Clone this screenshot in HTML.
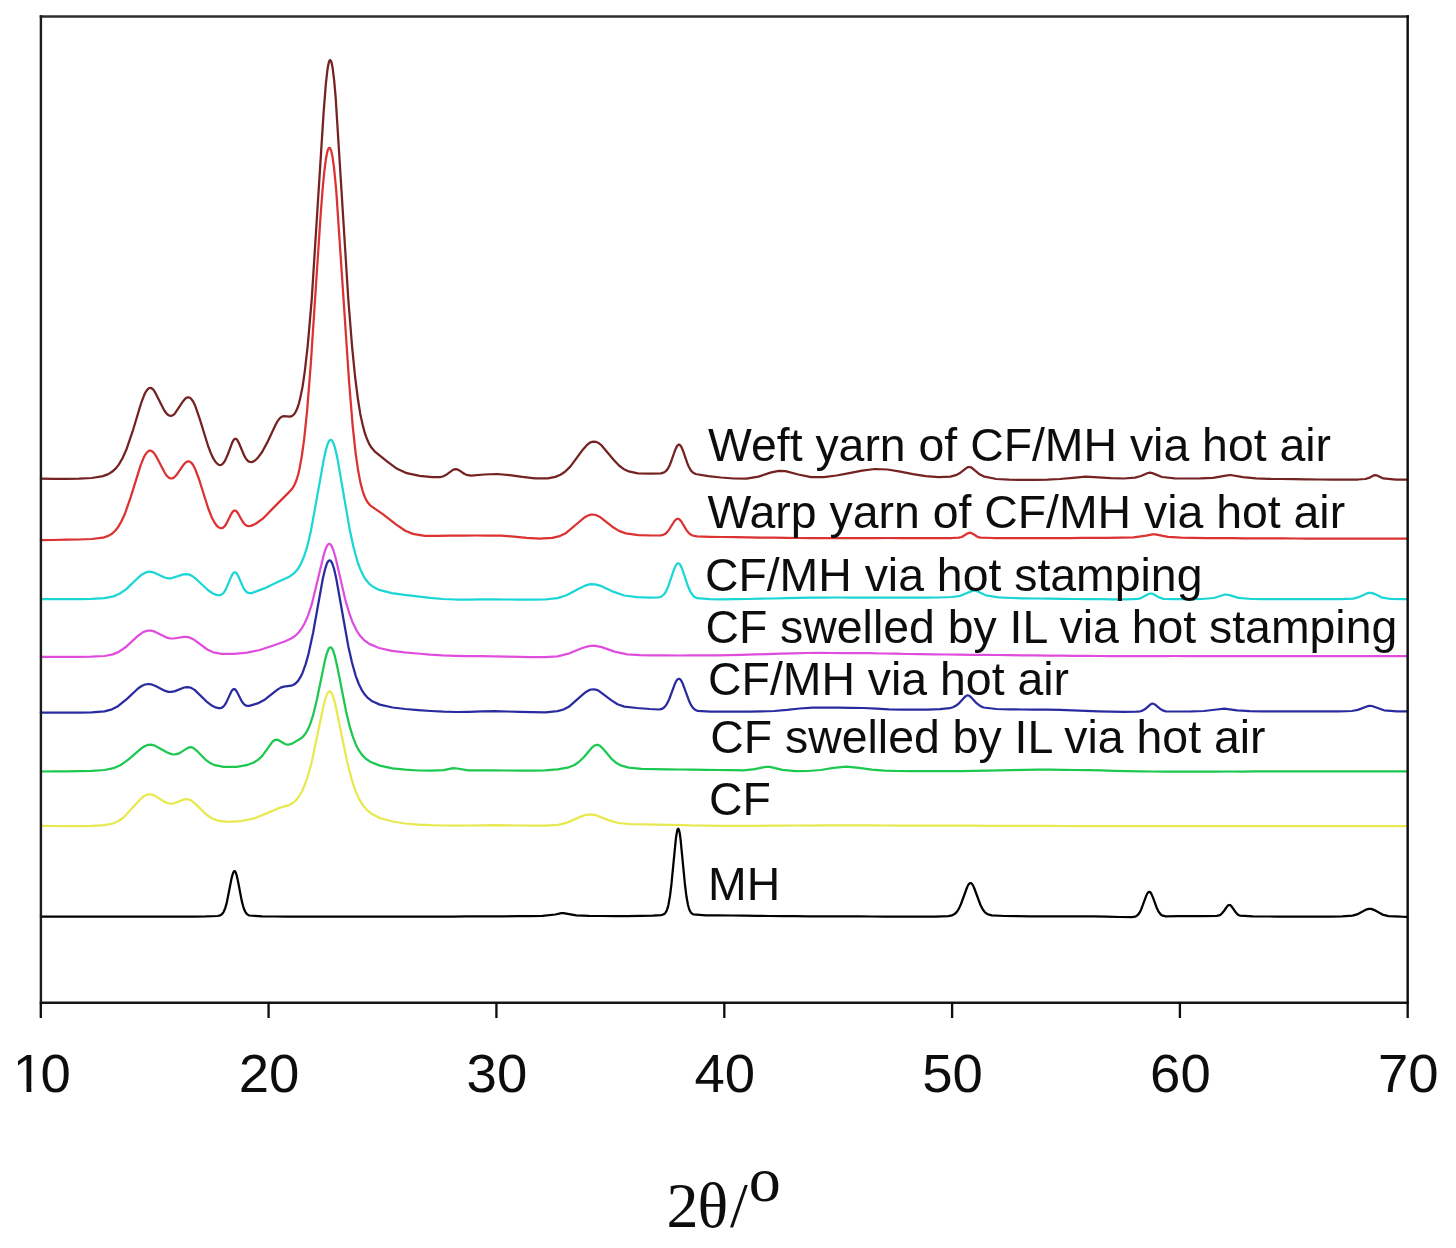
<!DOCTYPE html>
<html><head><meta charset="utf-8"><title>XRD patterns</title><style>html,body{margin:0;padding:0;background:#fff;overflow:hidden;}svg{display:block;}</style></head><body>
<svg width="1456" height="1248" viewBox="0 0 1456 1248">
<defs>
<filter id="bc" x="-5%" y="-5%" width="110%" height="110%"><feGaussianBlur stdDeviation="0.70"/></filter>
<filter id="bt" x="-5%" y="-5%" width="110%" height="110%"><feGaussianBlur stdDeviation="0.45"/></filter>
<filter id="bf" x="-5%" y="-5%" width="110%" height="110%"><feGaussianBlur stdDeviation="0.50"/></filter>
</defs>
<rect width="100%" height="100%" fill="#fff"/>
<g fill="none" stroke-linejoin="round" stroke-linecap="round" filter="url(#bc)">
<path stroke="#000000" stroke-width="2.25" d="M40.8,916.5 53.5,916.5 66.3,916.5 79.0,916.5 91.8,916.5 104.5,916.5 117.3,916.5 129.3,916.5 142.1,916.5 154.8,916.5 167.6,916.5 180.3,916.5 193.1,916.5 205.8,916.4 217.8,916.0 220.1,915.4 221.6,914.5 222.3,913.8 223.1,912.8 223.8,911.5 225.3,907.9 226.8,902.5 231.3,879.6 232.1,876.3 232.8,873.7 233.6,871.9 234.3,871.1 235.1,871.4 235.8,872.7 236.6,875.0 238.1,881.7 241.8,901.1 243.3,906.8 244.8,910.8 245.6,912.3 246.3,913.4 247.8,914.8 249.3,915.5 262.1,916.4 274.8,916.5 287.6,916.5 300.3,916.5 313.1,916.5 325.8,916.5 338.6,916.5 351.3,916.5 364.1,916.5 376.8,916.5 389.6,916.5 402.3,916.5 415.1,916.5 427.8,916.5 440.6,916.5 453.3,916.5 466.1,916.4 478.8,916.4 491.6,916.4 504.3,916.3 517.0,916.2 529.8,916.1 542.5,915.8 555.3,914.5 561.3,913.2 563.5,913.1 576.3,915.4 589.0,915.9 601.8,916.0 614.5,916.0 627.3,916.0 640.0,915.9 652.8,915.7 661.0,915.1 663.3,914.5 664.8,913.5 665.5,912.6 666.3,911.4 667.0,909.7 667.8,907.4 668.5,904.5 670.0,895.9 671.5,883.7 675.3,844.3 676.0,837.7 676.8,832.7 677.5,829.6 678.3,828.7 679.0,830.0 679.8,833.5 680.5,838.9 685.0,885.0 686.5,896.8 687.3,901.3 688.0,905.0 688.8,907.8 689.5,909.9 690.3,911.5 691.0,912.6 691.8,913.4 693.3,914.4 706.0,915.3 718.8,915.4 731.5,915.5 744.3,915.6 757.0,915.8 769.8,916.0 782.5,916.1 795.3,916.2 808.0,916.3 820.8,916.4 833.5,916.4 846.3,916.4 859.0,916.4 871.8,916.5 884.5,916.6 897.3,916.7 910.0,916.7 922.8,916.7 935.5,916.6 948.3,916.1 952.0,915.3 954.3,914.2 955.8,913.0 957.3,911.2 958.8,908.9 961.0,904.0 967.0,887.5 968.5,884.6 969.3,883.7 970.0,883.2 970.8,883.1 971.5,883.5 972.3,884.3 973.8,887.0 980.5,905.0 982.8,909.4 984.3,911.5 985.8,913.0 988.0,914.4 991.8,915.4 1004.5,916.0 1017.3,916.2 1030.0,916.3 1042.8,916.3 1055.5,916.3 1068.3,916.3 1081.0,916.3 1093.8,916.3 1106.5,916.6 1119.3,917.0 1132.0,917.1 1135.0,916.6 1136.5,916.0 1138.0,914.7 1139.5,912.8 1141.0,909.9 1146.3,895.6 1147.0,894.0 1147.8,892.8 1148.5,892.1 1149.3,891.8 1150.0,892.1 1150.8,892.9 1151.5,894.1 1153.0,897.6 1156.8,908.0 1158.3,911.1 1159.8,913.4 1161.3,914.9 1162.8,915.7 1165.8,916.3 1178.5,916.2 1191.3,916.2 1204.0,916.2 1216.8,915.9 1219.0,915.4 1220.5,914.7 1222.0,913.4 1224.3,910.5 1227.3,906.2 1228.0,905.5 1228.8,905.1 1229.5,905.0 1230.3,905.2 1231.0,905.8 1232.5,907.7 1235.5,912.1 1237.0,913.8 1238.5,915.0 1240.0,915.6 1252.8,916.4 1265.5,916.5 1278.3,916.5 1291.0,916.5 1303.8,916.5 1316.5,916.5 1329.3,916.5 1342.0,916.4 1352.5,915.7 1357.0,914.4 1366.8,909.3 1369.0,908.8 1371.3,908.9 1374.3,910.1 1382.5,914.6 1388.5,916.1 1401.3,916.7 1407.3,916.8"/>
<path stroke="#e8e850" stroke-width="2.25" d="M40.8,825.9 53.5,826.0 66.3,826.1 79.0,826.1 91.8,825.9 104.5,825.2 112.8,823.5 118.0,821.2 123.3,817.7 135.3,804.8 141.3,798.3 144.3,795.9 146.6,794.8 148.8,794.3 151.1,794.4 154.1,795.4 165.3,802.3 168.3,803.4 171.3,803.7 174.3,803.3 184.1,799.4 186.3,799.1 188.6,799.4 190.8,800.3 194.6,803.1 206.6,814.7 211.8,818.2 217.8,820.6 228.3,821.9 241.1,821.1 253.8,818.5 266.6,813.4 278.6,808.2 289.1,805.1 292.8,803.0 295.8,800.5 298.8,796.8 301.8,791.7 304.8,785.0 307.8,776.3 311.6,762.6 323.6,705.5 325.1,699.8 326.6,695.3 327.3,693.7 328.1,692.5 328.8,691.7 329.6,691.4 330.3,691.6 331.1,692.3 331.8,693.5 333.3,697.0 334.8,702.1 347.6,763.8 352.1,780.8 355.8,791.7 359.6,799.9 363.3,805.8 367.1,810.2 371.6,813.8 379.8,818.0 392.6,821.5 405.3,823.5 418.1,824.6 430.8,825.2 443.6,825.5 456.3,825.7 469.1,825.5 481.8,825.3 494.6,825.2 507.3,825.4 520.0,825.5 532.8,825.6 545.5,825.7 558.3,824.8 568.0,822.3 580.8,816.6 586.0,814.8 590.5,814.3 595.8,815.1 608.5,820.1 618.3,823.0 631.0,824.1 643.8,824.3 656.5,824.6 669.3,824.9 682.0,825.2 694.8,825.5 707.5,825.7 720.3,825.9 733.0,825.9 745.8,825.9 758.5,825.8 771.3,825.7 784.0,825.7 796.8,825.5 809.5,825.5 822.3,825.4 835.0,825.4 847.8,825.4 860.5,825.4 873.3,825.4 886.0,825.5 898.8,825.5 911.5,825.5 924.3,825.6 937.0,825.6 949.8,825.6 962.5,825.7 975.3,825.7 988.0,825.8 1000.8,825.8 1013.5,825.8 1026.3,825.9 1039.0,825.9 1051.8,825.9 1064.5,826.0 1077.3,826.0 1090.0,826.0 1102.8,826.0 1115.5,826.0 1128.3,826.0 1141.0,826.0 1153.8,826.0 1166.5,826.0 1179.3,826.0 1192.0,826.0 1204.8,826.0 1217.5,826.0 1230.3,826.0 1243.0,826.0 1255.8,826.0 1268.5,826.0 1281.3,826.0 1294.0,826.0 1306.8,826.0 1319.5,826.0 1332.3,826.0 1345.0,826.1 1357.8,826.1 1370.5,826.1 1383.3,826.1 1396.0,826.2 1407.3,826.2"/>
<path stroke="#1cc850" stroke-width="2.25" d="M40.8,771.5 53.5,771.4 66.3,771.3 79.0,771.1 91.8,770.9 104.5,770.0 113.5,768.2 120.3,765.3 128.6,759.4 141.3,748.3 145.1,746.0 148.1,744.9 151.1,744.7 154.1,745.3 166.8,752.3 170.6,753.9 173.6,754.5 176.6,754.2 179.6,753.1 187.8,747.9 189.3,747.4 190.8,747.2 192.3,747.5 193.8,748.3 196.8,750.8 205.1,759.3 209.6,762.7 214.8,765.2 223.8,766.9 236.6,766.8 247.8,764.8 253.8,762.5 258.3,759.6 262.1,756.1 271.8,742.6 273.3,741.0 274.8,740.0 276.3,739.6 277.8,739.8 284.6,743.8 286.8,744.5 289.1,744.5 292.1,743.6 300.3,738.8 303.3,736.3 305.6,733.5 307.8,729.6 310.1,724.4 313.1,715.2 316.8,699.9 325.1,659.8 326.6,654.2 328.1,650.0 328.8,648.6 329.6,647.7 330.3,647.3 331.1,647.5 331.8,648.2 332.6,649.4 333.3,651.1 334.8,655.8 337.8,669.2 346.1,711.5 349.8,726.9 352.8,736.7 355.8,744.4 358.8,750.2 361.8,754.6 365.6,758.5 370.1,761.7 379.8,765.6 392.6,768.3 405.3,769.7 418.1,770.5 430.8,770.7 443.6,770.1 453.3,768.2 457.1,768.5 468.3,770.3 481.1,770.4 493.8,770.4 506.6,770.5 519.3,770.6 532.0,770.6 544.8,770.4 557.5,769.4 568.8,767.3 574.0,765.2 578.5,762.3 583.8,757.3 592.0,747.6 594.3,745.7 595.8,745.0 597.3,744.8 598.8,745.2 600.3,746.1 603.3,749.0 611.5,758.8 616.0,762.7 620.5,765.3 628.8,767.6 641.5,768.8 654.3,769.2 667.0,769.4 679.8,769.5 692.5,769.6 705.3,769.8 718.0,770.0 730.8,770.1 743.5,770.3 754.8,769.2 765.3,766.9 769.8,766.8 782.5,769.9 795.3,771.1 808.0,771.0 820.8,770.0 833.5,767.9 846.3,766.7 859.0,767.8 871.8,769.7 884.5,770.7 897.3,771.0 910.0,771.1 922.8,771.1 935.5,771.1 948.3,771.2 961.0,771.1 973.8,770.9 986.5,770.6 999.3,770.3 1012.0,770.1 1024.8,769.8 1037.5,769.7 1050.3,769.7 1063.0,769.8 1075.8,770.0 1088.5,770.2 1101.3,770.4 1114.0,770.8 1126.8,771.1 1139.5,771.3 1152.3,771.5 1165.0,771.6 1177.8,771.7 1190.5,771.6 1203.3,771.6 1216.0,771.6 1228.8,771.5 1241.5,771.5 1254.3,771.4 1267.0,771.4 1279.8,771.4 1292.5,771.4 1305.3,771.4 1318.0,771.4 1330.8,771.4 1343.5,771.4 1356.3,771.4 1369.0,771.4 1381.8,771.4 1394.5,771.4 1407.3,771.4"/>
<path stroke="#2c2ca0" stroke-width="2.25" d="M40.8,712.5 53.5,712.5 66.3,712.5 79.0,712.6 91.8,712.4 104.5,711.3 112.0,709.3 118.0,706.2 127.0,698.9 138.3,688.3 142.1,685.7 145.1,684.5 148.1,684.0 151.1,684.3 155.6,686.0 164.6,690.7 168.3,691.8 171.3,691.9 175.1,691.1 184.1,687.5 187.1,687.1 189.3,687.3 191.6,688.1 194.6,689.9 207.3,702.2 211.8,705.6 215.6,707.4 218.6,708.1 220.1,708.1 221.6,707.8 223.1,706.8 224.6,705.2 226.1,702.9 231.3,691.6 232.1,690.4 232.8,689.6 233.6,689.2 234.3,689.1 235.1,689.4 235.8,690.1 237.3,692.5 241.1,700.1 242.6,702.6 244.1,704.3 245.6,705.4 247.1,705.8 249.3,705.9 257.6,703.4 265.1,699.4 277.8,689.4 280.8,687.6 283.8,686.6 291.3,685.7 293.6,684.8 295.8,683.3 298.1,680.9 300.3,677.4 302.6,672.7 305.6,664.4 308.6,653.6 313.1,632.7 322.8,578.8 325.1,569.1 326.6,564.4 327.3,562.7 328.1,561.4 328.8,560.7 329.6,560.4 330.3,560.6 331.1,561.4 331.8,562.6 332.6,564.3 334.1,569.0 336.3,578.8 348.3,646.2 352.1,663.0 355.8,676.1 358.8,684.0 361.8,690.1 364.8,694.6 367.8,697.9 372.3,701.3 379.8,704.6 392.6,707.5 405.3,709.0 418.1,710.1 430.8,711.0 443.6,711.7 456.3,712.0 469.1,711.8 481.8,711.4 494.6,711.2 507.3,711.5 520.0,711.9 532.8,712.2 545.5,712.3 557.5,711.2 563.5,709.5 568.8,706.8 581.5,695.6 586.0,691.9 589.0,690.2 591.3,689.5 593.5,689.3 595.8,689.6 598.8,690.8 611.5,700.4 617.5,704.2 624.3,706.6 637.0,708.0 649.8,709.0 658.8,709.5 661.0,709.2 662.5,708.6 664.0,707.5 665.5,706.0 667.0,703.7 669.3,699.0 674.5,684.8 676.0,681.5 676.8,680.3 677.5,679.4 678.3,678.9 679.0,678.8 679.8,679.1 680.5,679.7 681.3,680.8 682.8,683.8 688.8,700.2 691.0,705.0 692.5,707.2 694.0,708.9 695.5,710.0 697.8,710.9 710.5,711.7 723.3,711.7 736.0,711.7 748.8,711.6 761.5,711.4 774.3,711.0 787.0,709.9 799.8,708.5 812.5,707.6 825.3,707.6 838.0,707.7 850.8,707.9 863.5,708.0 876.3,708.6 889.0,709.3 901.8,709.7 914.5,709.7 927.3,709.6 940.0,709.2 949.8,708.2 953.5,707.0 956.5,705.3 959.5,702.8 964.8,697.0 966.3,695.8 967.0,695.5 967.8,695.4 968.5,695.5 969.3,695.8 970.8,697.0 976.8,703.4 979.8,705.7 983.5,707.5 996.3,709.0 1009.0,709.4 1021.8,709.5 1034.5,709.5 1047.3,709.6 1060.0,709.9 1072.8,710.4 1085.5,710.9 1098.3,711.3 1111.0,711.6 1123.8,711.8 1136.5,711.7 1140.3,711.3 1142.5,710.6 1144.8,709.3 1150.0,704.8 1151.5,703.9 1152.3,703.7 1153.0,703.7 1154.5,704.2 1160.5,709.1 1162.8,710.4 1165.8,711.3 1178.5,711.5 1191.3,711.4 1204.0,711.0 1216.8,709.5 1224.3,708.6 1237.0,710.3 1249.8,711.1 1262.5,711.3 1275.3,711.4 1288.0,711.4 1300.8,711.4 1313.5,711.4 1326.3,711.4 1339.0,711.3 1351.8,711.0 1357.8,709.9 1367.5,706.2 1369.8,705.8 1372.0,706.0 1384.0,710.3 1396.8,711.3 1407.3,711.4"/>
<path stroke="#e04ede" stroke-width="2.25" d="M40.8,656.8 53.5,656.8 66.3,656.8 79.0,656.8 91.8,656.7 104.5,656.0 112.8,654.4 118.8,651.9 125.5,647.3 137.6,636.2 142.1,632.8 145.1,631.3 148.1,630.6 151.1,630.6 154.8,631.7 166.1,637.3 169.8,638.3 173.6,638.5 184.1,636.8 187.1,636.9 190.1,637.7 194.6,640.1 207.3,649.5 213.3,652.3 221.6,653.9 234.3,653.9 247.1,652.7 259.8,650.0 272.6,645.8 285.3,641.3 292.1,638.0 295.8,635.3 298.8,632.3 301.8,628.3 304.8,623.0 307.8,616.1 311.6,604.9 323.6,555.6 325.1,550.5 326.6,546.7 327.3,545.4 328.1,544.4 328.8,543.9 329.6,543.9 330.3,544.3 331.1,545.1 331.8,546.4 333.3,550.0 335.6,557.8 345.3,599.7 349.1,612.7 352.8,622.8 356.6,630.5 360.3,636.1 364.1,640.1 369.3,643.9 379.1,648.0 391.8,650.8 404.6,652.3 417.3,653.5 430.1,654.6 442.8,655.4 455.6,655.8 468.3,656.1 481.1,656.2 493.8,656.4 506.6,656.6 519.3,656.9 532.0,657.2 544.8,657.2 557.5,656.3 569.5,653.3 582.3,648.0 589.0,646.1 594.3,645.7 601.8,647.1 614.5,651.6 627.3,654.3 640.0,655.1 652.8,655.3 665.5,655.4 678.3,655.5 691.0,655.4 703.8,655.4 716.5,655.3 729.3,655.2 742.0,654.9 754.8,654.4 767.5,654.1 780.3,653.7 793.0,653.3 805.8,653.0 818.5,652.9 831.3,653.0 844.0,653.0 856.8,653.1 869.5,653.2 882.3,653.5 895.0,653.7 907.8,654.0 920.5,654.2 933.3,654.3 946.0,654.5 958.8,654.6 971.5,654.8 984.3,654.9 997.0,655.0 1009.8,655.1 1022.5,655.3 1035.3,655.4 1048.0,655.6 1060.8,655.7 1073.5,655.8 1086.3,655.9 1099.0,656.0 1111.8,656.0 1124.5,656.1 1137.3,656.1 1150.0,656.1 1162.8,656.1 1175.5,656.0 1188.3,656.0 1201.0,656.0 1213.8,656.0 1226.5,656.0 1239.3,656.0 1252.0,656.0 1264.8,656.0 1277.5,656.0 1290.3,656.0 1303.0,656.0 1315.8,656.0 1328.5,656.0 1341.3,656.0 1354.0,656.0 1366.8,656.0 1379.5,656.0 1392.3,656.0 1405.0,656.0 1407.3,656.0"/>
<path stroke="#1cd6d6" stroke-width="2.25" d="M40.8,599.0 53.5,599.0 66.3,599.0 79.0,599.0 91.8,598.9 104.5,598.2 113.5,596.4 119.5,593.8 126.3,589.1 138.3,577.5 142.8,573.9 145.8,572.4 148.1,571.8 150.3,571.7 153.3,572.3 164.6,577.5 168.3,578.3 171.3,578.3 183.3,574.4 186.3,574.1 188.6,574.4 191.6,575.6 195.3,578.3 208.1,590.3 212.6,593.3 216.3,594.9 218.6,595.2 220.1,595.1 221.6,594.5 223.1,593.4 224.6,591.5 226.1,588.9 231.3,576.4 232.8,573.7 233.6,572.8 234.3,572.4 235.1,572.3 235.8,572.6 236.6,573.4 238.1,575.8 243.3,587.6 244.8,590.0 246.3,591.7 247.8,592.7 249.3,593.1 251.6,593.1 264.3,588.4 277.1,582.2 289.8,576.4 293.6,573.7 296.6,570.6 298.8,567.5 301.1,563.4 304.1,556.3 307.1,546.9 310.8,531.6 323.6,460.6 325.8,450.3 327.3,445.1 328.1,443.1 328.8,441.5 329.6,440.5 330.3,439.9 331.1,439.9 331.8,440.4 332.6,441.4 333.3,442.9 334.8,447.2 337.1,456.6 349.8,530.1 353.6,547.5 357.3,561.0 360.3,569.3 363.3,575.6 366.3,580.3 369.3,583.8 373.1,586.8 379.1,589.9 391.8,593.2 404.6,594.9 417.3,596.3 430.1,597.8 442.8,599.0 455.6,599.5 468.3,599.5 481.1,599.4 493.8,599.4 506.6,599.5 519.3,599.6 532.0,599.6 544.8,599.5 557.5,598.1 566.5,595.2 579.3,588.4 586.0,585.3 590.5,584.2 595.0,584.3 601.0,585.9 613.8,591.9 624.3,595.5 637.0,597.1 649.8,597.6 658.0,597.5 660.3,597.0 661.8,596.2 663.3,595.1 664.8,593.3 666.3,590.8 668.5,585.7 673.8,570.2 675.3,566.5 676.0,565.2 676.8,564.1 677.5,563.5 678.3,563.3 679.0,563.6 679.8,564.2 680.5,565.3 682.0,568.5 688.0,586.3 690.3,591.5 691.8,594.0 693.3,595.8 694.8,597.1 697.0,598.2 709.8,599.2 722.5,599.3 735.3,599.2 748.0,599.0 760.8,598.7 773.5,598.5 786.3,598.2 799.0,597.9 811.8,597.6 824.5,597.6 837.3,597.5 850.0,597.5 862.8,597.5 875.5,597.5 888.3,597.5 901.0,597.5 913.8,597.6 926.5,597.6 939.3,597.5 952.0,597.0 960.3,595.8 972.3,590.9 973.8,590.7 975.3,590.7 978.3,591.8 985.8,595.3 998.5,597.4 1011.3,598.0 1024.0,598.3 1036.8,598.5 1049.5,598.7 1062.3,598.8 1075.0,599.0 1087.8,599.1 1100.5,599.2 1113.3,599.3 1126.0,599.3 1138.0,598.8 1141.0,598.1 1148.5,594.0 1150.0,593.5 1151.5,593.5 1153.0,593.9 1159.8,597.7 1163.5,598.8 1176.3,599.2 1189.0,599.2 1201.8,599.0 1213.8,598.0 1224.3,594.7 1226.5,594.5 1230.3,595.4 1238.5,597.9 1251.3,599.0 1264.0,599.2 1276.8,599.2 1289.5,599.2 1302.3,599.2 1315.0,599.2 1327.8,599.2 1340.5,599.2 1353.3,598.6 1358.5,597.2 1366.8,593.4 1369.0,592.8 1371.3,592.9 1374.3,593.8 1382.5,597.7 1390.8,599.0 1403.5,599.2 1407.3,599.2"/>
<path stroke="#dc3030" stroke-width="2.25" d="M40.8,540.2 53.5,540.0 66.3,539.7 79.0,539.5 91.8,539.0 103.0,537.7 108.3,535.9 112.0,533.7 115.0,531.0 118.0,527.2 121.0,522.2 124.8,514.1 130.8,496.8 140.6,465.3 143.6,457.8 145.1,454.9 146.6,452.8 148.1,451.4 148.8,450.9 149.6,450.7 150.3,450.7 151.1,450.8 152.6,451.7 154.1,453.2 156.3,456.6 164.6,472.5 166.8,475.8 168.3,477.3 169.8,478.2 171.3,478.5 172.8,478.2 174.3,477.3 176.6,474.9 183.3,465.1 185.6,462.6 187.1,461.7 187.8,461.4 188.6,461.4 189.3,461.5 190.1,461.8 191.6,463.0 193.1,465.0 195.3,469.3 199.1,479.5 208.1,508.0 211.8,517.4 214.1,521.8 216.3,525.1 217.8,526.6 219.3,527.7 220.8,528.2 221.6,528.1 222.3,527.9 223.1,527.6 224.6,526.2 226.1,524.2 231.3,513.8 232.8,511.6 233.6,510.9 234.3,510.5 235.1,510.5 235.8,510.9 236.6,511.5 238.1,513.5 242.6,521.5 244.1,523.5 245.6,525.0 247.1,525.8 248.6,526.1 250.8,525.9 255.3,524.0 262.8,518.7 275.6,505.6 288.3,492.9 291.3,489.8 293.6,486.5 295.1,483.5 296.6,479.7 298.1,474.7 299.6,468.4 301.8,456.1 304.1,439.7 307.1,410.9 310.8,363.8 320.6,215.4 322.8,187.0 324.3,171.6 325.8,159.8 326.6,155.3 327.3,151.8 328.1,149.4 328.8,148.0 329.6,147.8 330.3,148.6 331.1,150.4 331.8,153.4 332.6,157.4 334.1,168.3 336.3,191.4 349.1,382.0 352.8,427.2 355.8,454.6 358.1,470.3 360.3,482.1 362.6,490.9 364.1,495.3 365.6,498.7 367.8,502.6 370.1,505.3 382.8,514.2 395.6,524.1 405.3,530.7 412.8,533.9 424.8,535.9 437.6,535.9 450.3,535.6 463.1,535.6 475.8,535.5 488.6,535.5 501.3,535.7 514.0,536.6 526.8,537.9 539.5,538.6 552.3,537.9 559.8,536.1 565.8,533.2 578.5,522.5 584.5,517.4 587.5,515.7 590.5,514.7 592.8,514.5 595.8,515.0 599.5,516.7 612.3,526.7 619.0,530.9 625.8,533.4 638.5,535.1 651.3,535.5 660.3,535.4 663.3,534.8 664.8,534.1 666.3,533.0 668.5,530.5 674.5,521.0 676.0,519.4 676.8,519.0 677.5,518.8 678.3,518.8 679.0,519.1 679.8,519.7 681.3,521.5 686.5,530.1 688.8,533.0 690.3,534.3 692.5,535.5 697.0,536.4 709.8,536.8 722.5,537.0 735.3,537.2 748.0,537.4 760.8,537.6 773.5,537.7 786.3,537.9 799.0,538.0 811.8,538.1 824.5,538.1 837.3,538.1 850.0,538.1 862.8,538.1 875.5,538.1 888.3,538.0 901.0,538.0 913.8,538.0 926.5,538.0 939.3,538.0 952.0,538.0 958.8,537.7 961.8,537.0 967.8,533.3 969.3,532.9 970.8,532.9 972.3,533.5 977.5,536.8 980.5,537.7 993.3,538.0 1006.0,538.0 1018.8,538.0 1031.5,538.0 1044.3,538.0 1057.0,538.0 1069.8,538.0 1082.5,537.9 1095.3,537.9 1108.0,537.9 1120.8,537.7 1133.5,537.3 1146.3,535.7 1152.3,534.3 1155.3,534.4 1168.0,536.9 1180.8,537.7 1193.5,537.9 1206.3,538.1 1219.0,538.1 1231.8,538.2 1244.5,538.3 1257.3,538.3 1270.0,538.4 1282.8,538.4 1295.5,538.5 1308.3,538.5 1321.0,538.5 1333.8,538.5 1346.5,538.5 1359.3,538.5 1372.0,538.5 1384.8,538.5 1397.5,538.5 1407.3,538.5"/>
<path stroke="#742020" stroke-width="2.25" d="M40.8,478.6 53.5,478.8 66.3,478.9 79.0,478.7 91.8,478.0 103.0,476.1 108.3,474.1 112.0,471.8 115.8,468.4 118.8,464.6 122.5,458.2 126.3,449.8 133.1,429.8 141.3,402.6 144.3,394.8 145.8,391.8 147.3,389.6 148.1,388.9 148.8,388.3 149.6,388.0 150.3,387.9 151.1,388.1 151.8,388.4 153.3,389.7 154.8,391.8 163.8,409.6 166.1,413.0 167.6,414.5 169.1,415.5 170.6,415.9 172.1,415.6 173.6,414.7 175.1,413.2 183.3,400.9 184.8,399.2 186.3,397.9 187.1,397.6 187.8,397.4 188.6,397.3 189.3,397.5 190.1,397.9 191.6,399.3 193.1,401.5 195.3,406.1 199.8,419.2 208.1,446.0 211.1,453.8 213.3,458.4 215.6,462.0 217.1,463.6 218.6,464.7 219.3,465.0 220.1,465.1 220.8,465.0 221.6,464.7 222.3,464.2 223.8,462.6 225.3,460.1 227.6,455.0 232.1,442.9 233.6,440.1 234.3,439.3 235.1,438.8 235.8,438.8 236.6,439.3 237.3,440.1 238.8,442.8 244.1,455.3 245.6,458.1 247.1,460.1 248.6,461.4 250.1,462.0 251.6,462.1 253.1,461.6 255.3,460.2 258.3,457.2 262.1,452.0 267.3,442.4 275.6,424.7 277.8,420.8 279.3,418.8 280.8,417.4 282.3,416.5 283.8,416.1 289.8,416.7 291.3,416.4 292.8,415.5 294.3,414.0 295.8,411.6 297.3,408.3 298.8,403.8 300.3,397.9 302.6,386.5 304.8,371.3 307.8,344.8 311.6,301.1 323.6,112.6 325.8,84.4 327.3,70.8 328.1,66.0 328.8,62.5 329.6,60.5 330.3,60.1 331.1,61.1 331.8,63.7 332.6,67.7 334.1,79.8 335.6,96.6 348.3,299.2 352.1,346.9 355.1,377.0 358.1,400.3 360.3,413.9 362.6,424.6 364.8,433.0 367.1,439.3 369.3,444.2 371.6,447.8 374.6,451.3 387.3,461.7 397.1,468.8 406.8,473.2 419.6,475.9 432.3,477.1 439.8,477.1 442.8,476.5 445.8,475.1 452.6,470.1 454.1,469.4 455.6,469.1 457.1,469.3 459.3,470.4 464.6,474.0 467.6,475.2 471.3,475.6 484.1,474.5 496.8,474.0 509.6,475.1 522.3,476.9 535.0,478.3 547.8,478.3 555.3,476.9 560.5,474.8 565.0,471.8 570.3,466.6 583.0,449.4 586.8,445.2 589.0,443.3 591.3,442.1 593.5,441.6 595.8,441.8 598.0,442.7 601.0,444.8 613.8,460.0 619.0,465.5 623.5,468.9 628.8,471.4 637.8,473.3 650.5,473.7 661.0,473.3 663.3,472.7 664.8,472.0 666.3,470.7 667.8,468.8 669.3,466.1 671.5,460.5 675.3,449.7 676.8,446.5 677.5,445.5 678.3,444.8 679.0,444.6 679.8,444.9 680.5,445.7 681.3,446.8 682.8,450.2 687.3,463.2 688.8,466.8 690.3,469.5 691.8,471.5 693.3,472.8 695.5,474.0 708.3,476.1 721.0,477.5 733.8,478.5 746.5,478.7 758.5,476.6 771.3,472.4 778.8,470.9 785.5,471.2 798.3,474.5 811.0,477.1 823.8,477.1 836.5,475.5 849.3,473.1 862.0,470.6 874.8,469.0 887.5,469.5 900.3,471.7 913.0,474.2 925.8,476.1 938.5,477.1 950.5,476.6 955.8,475.2 959.5,473.3 966.3,468.1 967.8,467.2 969.3,467.0 970.8,467.3 973.0,468.8 979.0,473.9 983.5,476.3 996.3,479.0 1009.0,479.7 1021.8,479.9 1034.5,479.9 1047.3,479.6 1060.0,479.0 1072.8,477.8 1085.5,476.7 1098.3,477.3 1111.0,478.2 1123.8,478.5 1135.0,477.7 1141.0,476.0 1147.8,473.0 1150.0,472.7 1152.3,473.1 1162.0,477.0 1174.8,478.4 1187.5,478.5 1200.3,478.4 1213.0,477.8 1225.8,475.7 1230.3,475.0 1243.0,477.1 1255.8,478.3 1268.5,478.8 1281.3,479.0 1294.0,479.2 1306.8,479.4 1319.5,479.5 1332.3,479.5 1345.0,479.5 1357.8,479.5 1365.3,479.0 1369.0,477.9 1373.5,475.6 1375.0,475.2 1376.5,475.3 1383.3,478.4 1396.0,479.6 1407.3,479.7"/>
</g>
<g filter="url(#bf)">
<path d="M39.7,16.5 H1408.9" stroke="#2e2e2e" stroke-width="2.6" fill="none"/>
<path d="M39.7,1002.7 H1408.9" stroke="#141414" stroke-width="2.4" fill="none"/>
<path d="M40.9,15.3 V1002.7" stroke="#1c1c1c" stroke-width="2.4" fill="none"/>
<path d="M1407.7,15.3 V1002.7" stroke="#080808" stroke-width="2.4" fill="none"/>
<path d="M40.8,1002.7 V1018.0 M268.6,1002.7 V1018.0 M496.4,1002.7 V1018.0 M724.3,1002.7 V1018.0 M952.1,1002.7 V1018.0 M1179.9,1002.7 V1018.0 M1407.7,1002.7 V1018.0" stroke="#0a0a0a" stroke-width="2.3" fill="none"/>
</g>
<g filter="url(#bt)">
<g font-family="Liberation Sans, Arial, sans-serif" font-size="54.5" text-anchor="middle" fill="#111">
<text x="269.1" y="1091.5">20</text>
<text x="496.9" y="1091.5">30</text>
<text x="724.8" y="1091.5">40</text>
<text x="952.6" y="1091.5">50</text>
<text x="1180.4" y="1091.5">60</text>
<text x="1408.2" y="1091.5">70</text>
</g>
<clipPath id="c1"><rect x="0" y="1030" width="40" height="57.43"/><rect x="26.50" y="1080" width="4.82" height="20"/></clipPath>
<g font-family="Liberation Sans, Arial, sans-serif" font-size="54.5" fill="#111">
<text x="12.80" y="1091.5" clip-path="url(#c1)">1</text>
<text x="40.6" y="1091.5">0</text>
</g>
<g font-family="Liberation Sans, Arial, sans-serif" font-size="46.4" fill="#111">
<text x="708.0" y="461.0">Weft yarn of CF/MH via hot air</text>
<text x="707.5" y="528.0">Warp yarn of CF/MH via hot air</text>
<text x="704.9" y="591.0">CF/MH via hot stamping</text>
<text x="705.4" y="643.0">CF swelled by IL via hot stamping</text>
<text x="708.1" y="695.0">CF/MH via hot air</text>
<text x="710.3" y="753.0">CF swelled by IL via hot air</text>
<text x="708.9" y="815.0">CF</text>
<text x="708.0" y="900.0">MH</text>
</g>
<g font-family="Liberation Serif, Times New Roman, serif" font-size="64" fill="#111">
<text x="666.4" y="1227">2</text>
<text x="697.4" y="1227">&#952;</text>
<text x="730" y="1227">/</text>
<text x="748.7" y="1200.5">o</text>
</g>
</g>
</svg>
</body></html>
